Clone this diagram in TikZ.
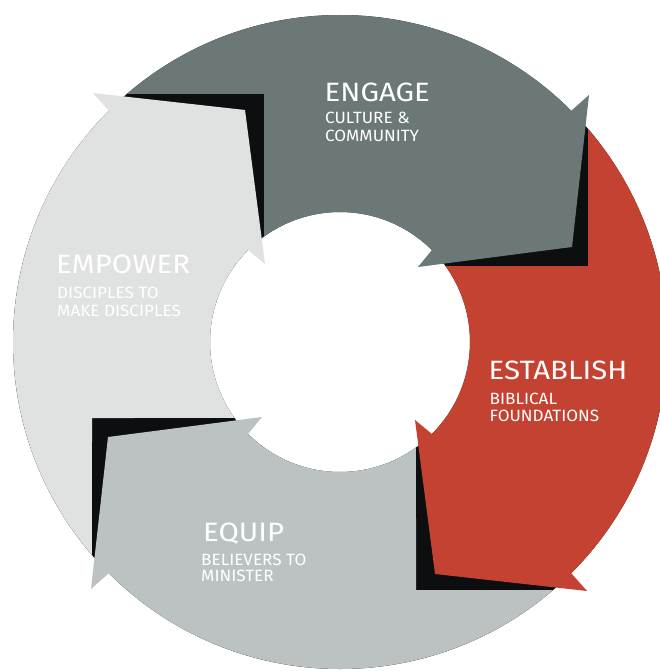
\documentclass[tikz,border=0pt]{standalone}
\usepackage{fontspec}
\setmainfont{Fira Sans}
\newfontfamily\titlefont{Fira Sans}[FakeStretch=1.11]
\newfontfamily\subfont{Fira Sans}[FakeStretch=1.05]
\definecolor{engagec}{HTML}{6B7877}
\definecolor{establishc}{HTML}{C44232}
\definecolor{equipc}{HTML}{BCC2C2}
\definecolor{empowerc}{HTML}{E0E1E1}
\definecolor{shadec}{HTML}{0C0E0F}
\newcommand\arrowseg{(-130.67:327) arc[start angle=-130.67, end angle=-45, radius=327] -- (249,-247) -- (232,-95) -- (78,-75) -- (-45:130) arc[start angle=-45, end angle=-125.77, radius=130] -- (-76,-248) -- cycle}
\tikzset{
  ttl/.style={text=white, anchor=base west, inner sep=0pt, font=\titlefont\fontsize{26.5}{30}\selectfont},
  sub/.style={text=white, anchor=base west, inner sep=0pt, font=\subfont\fontsize{16.3}{18}\selectfont}
}
\begin{document}
\begin{tikzpicture}[x=1pt,y=-1pt]
\useasboundingbox (0,0) rectangle (660,671);
\clip (0,0) rectangle (660,671);
\fill[white] (0,0) rectangle (660,671);
\coordinate (C) at (340,342);
\fill[shadec, even odd rule] (C) circle[radius=327] (C) circle[radius=130];
\fill[engagec, shift={(C)}] \arrowseg;
\fill[establishc, shift={(C)}, rotate=-90] \arrowseg;
\fill[equipc, shift={(C)}, rotate=-180] \arrowseg;
\fill[empowerc, shift={(C)}, rotate=-270] \arrowseg;
% texts
\node[ttl] (engage) at (324.5,101.7) {ENGAGE};
\node[sub] (engage1) at (325,124) {CULTURE \&};
\node[sub] (engage2) at (325,141.7) {COMMUNITY};
\node[ttl] (establish) at (488.5,379.3) {ESTABLISH};
\node[sub] (establish1) at (489.5,404.3) {BIBLICAL};
\node[sub] (establish2) at (489.5,421.7) {FOUNDATIONS};
\node[ttl] (equip) at (203,541.7) {EQUIP};
\node[sub] (equip1) at (201,565) {BELIEVERS TO};
\node[sub] (equip2) at (201,581.7) {MINISTER};
\node[ttl] (empower) at (56,273.3) {EMPOWER};
\node[sub] (empower1) at (57,298.3) {DISCIPLES TO};
\node[sub] (empower2) at (57,316) {MAKE DISCIPLES};
\end{tikzpicture}
\end{document}
